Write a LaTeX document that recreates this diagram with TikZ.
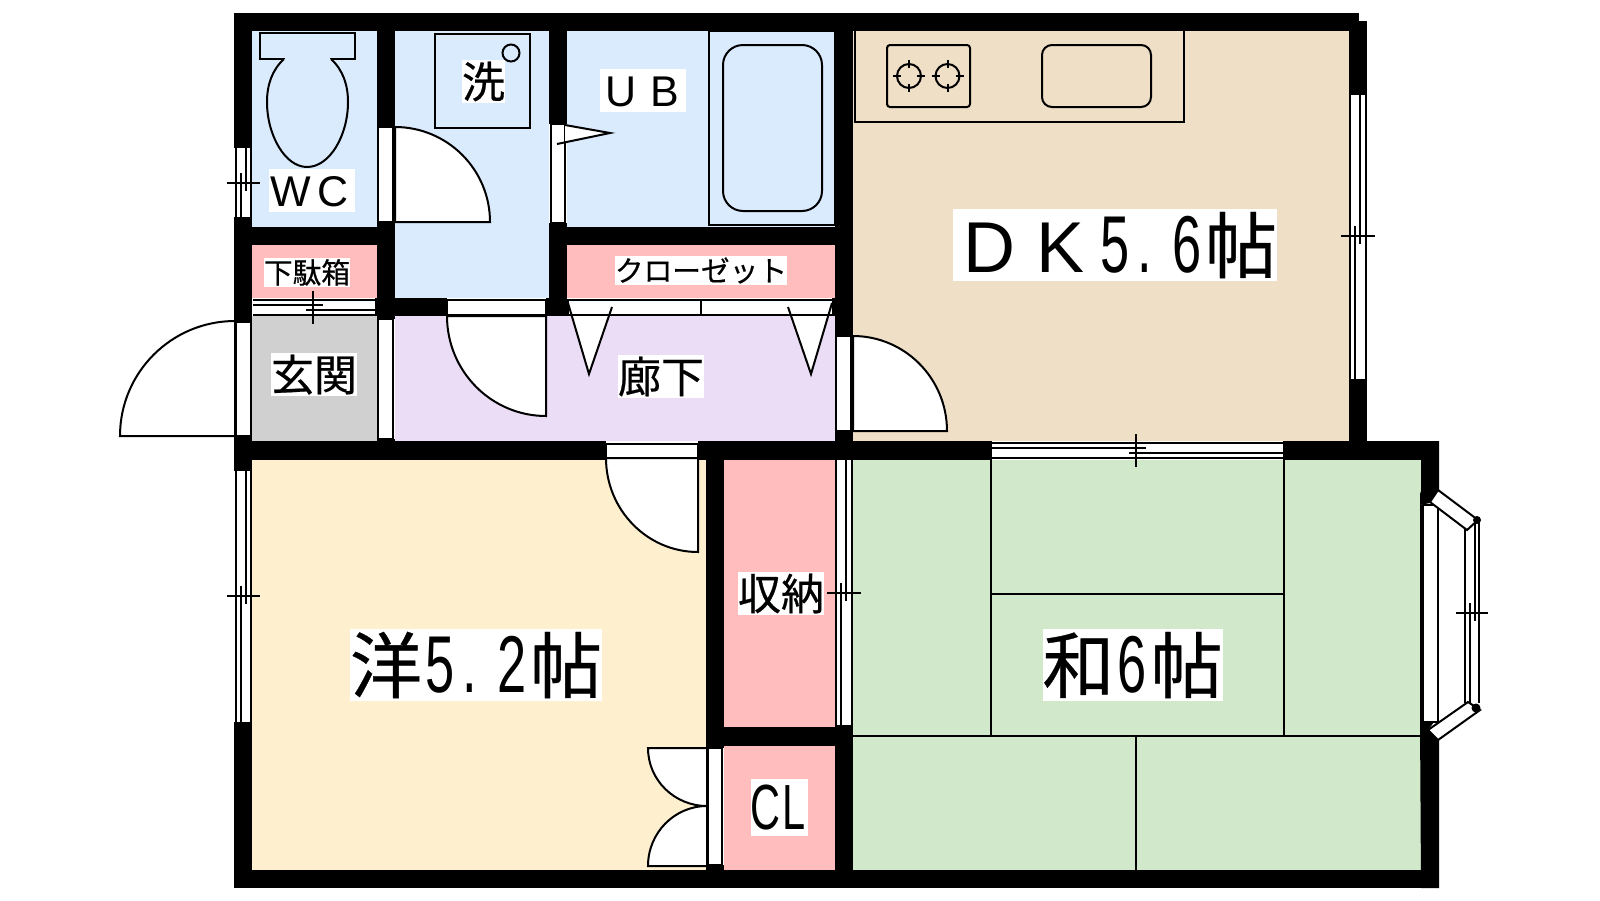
\documentclass[tikz,border=0pt]{standalone}
\usepackage{fontspec}
\setmainfont[FakeBold=0.5]{Noto Sans CJK JP}
\newfontfamily\latinf[Scale=1.0]{Liberation Sans}
\newfontfamily\narrowf[Scale=1.12,FakeStretch=0.65]{Liberation Sans}
\definecolor{cblue}{HTML}{DAEBFE}
\definecolor{cpink}{HTML}{FFBDBD}
\definecolor{cgray}{HTML}{D0D0D0}
\definecolor{cpurple}{HTML}{ECDDF6}
\definecolor{cbeige}{HTML}{EFDFC6}
\definecolor{ccream}{HTML}{FEF0CF}
\definecolor{cgreen}{HTML}{D2E8CB}
\tikzset{
  wall/.style={fill=black,draw=none},
  ln/.style={draw=black,line width=2pt},
  thin ln/.style={draw=black,line width=1.7pt},
  openbox/.style={fill=white,draw=black,line width=2pt},
  lbl/.style={fill=white,inner sep=0pt,outer sep=0pt,text=black},
}
\newcommand\rw[4]{\fill[wall] (#1,#2) rectangle (#3,#4);}
\newcommand\room[5]{\fill[#1] (#2,#3) rectangle (#4,#5);}
% door: a=(#1,#2) b=(#3,#4) centre=(#5,#6)
\newcommand\swing[6]{\filldraw[openbox] (#5,#6) -- (#1,#2) .. controls ({#1+.5523*(#3-#5)},{#2+.5523*(#4-#6)}) and ({#3+.5523*(#1-#5)},{#4+.5523*(#2-#6)}) .. (#3,#4) -- cycle;}
% vertical window x0 x1 y0 y1 yc
\newcommand\vwin[5]{%
  \fill[white] (#1,#3) rectangle (#2,#4);
  \draw[ln] (#1,#3) -- (#1,#4) (#2,#3) -- (#2,#4);
  \draw[ln] ({#1+5},{#5-10}) -- ({#1+5},#4) ({#1+10},#3) -- ({#1+10},{#5+8});
  \draw[ln] ({#1-9},#5) -- ({#2+9},#5);}
% horizontal window x0 x1 y0 xc
\newcommand\hwin[4]{%
  \fill[white] (#1,#3) rectangle (#2,{#3+15});
  \draw[ln] (#1,#3) -- (#2,#3) (#1,{#3+15}) -- (#2,{#3+15});
  \draw[ln] (#1,{#3+5}) -- ({#4+10},{#3+5}) ({#4-7},{#3+10}) -- (#2,{#3+10});
  \draw[ln] (#4,{#3-9}) -- (#4,{#3+24});}
% label: name cx cy em text
\newcommand\flabel[5]{\node[lbl] (#1) at (#2,#3) {\fontsize{#4}{#4}\selectfont\rule[-.12em]{0pt}{1em}#5};}
\newcommand\wch[1]{\makebox[1em]{\latinf #1}}
\newcommand\nch[1]{\makebox[.5em]{\narrowf #1}}
\newcommand\pch{\makebox[.5em][l]{\hspace{.06em}\narrowf .}}
\begin{document}
\begin{tikzpicture}[x=1pt,y=-1pt]
\useasboundingbox (0,0) rectangle (1600,900);
% rooms
\room{cblue}{252}{31}{377}{227}
\room{cblue}{395}{31}{549}{298}
\room{cblue}{567}{31}{835}{227}
\room{cbeige}{853}{31}{1349}{441}
\room{cpink}{252}{245}{377}{298}
\room{cpink}{567}{245}{835}{298}
\room{cgray}{252}{316}{377}{441}
\room{cpurple}{395}{316}{835}{441}
\room{ccream}{252}{460}{706}{870}
\room{cpink}{724}{460}{835}{727}
\room{cpink}{724}{746}{835}{870}
\room{cgreen}{853}{460}{1421}{870}
% tatami
\draw[thin ln] (853,736) -- (1421,736) (991,460) -- (991,736) (1284,460) -- (1284,736) (991,594) -- (1284,594) (1136,736) -- (1136,870);
% walls
\rw{234}{13}{1359}{31}
\rw{234}{13}{252}{148}
\rw{234}{217}{252}{322}
\rw{234}{436}{252}{471}
\rw{234}{722}{252}{888}
\rw{234}{870}{1439}{888}
\rw{1349}{21}{1367}{95}
\rw{1349}{379}{1367}{441}
\rw{377}{13}{395}{127}
\rw{377}{222}{395}{319}
\rw{377}{439}{395}{460}
\rw{234}{227}{395}{245}
\rw{375}{298}{447}{316}
\rw{549}{13}{567}{124}
\rw{549}{223}{567}{316}
\rw{546}{298}{567}{316}
\rw{549}{227}{853}{245}
\rw{835}{13}{853}{336}
\rw{832}{298}{835}{316}
\rw{835}{431}{853}{460}
\rw{835}{725}{853}{888}
\rw{234}{441}{606}{460}
\rw{698}{441}{992}{460}
\rw{1283}{441}{1439}{460}
\rw{706}{441}{724}{748}
\rw{706}{865}{724}{888}
\rw{706}{727}{853}{746}
\fill[wall] (1421,441) -- (1439,441) -- (1439,490) -- (1430,503) -- (1420,505) -- (1420,494) -- (1421,491) -- cycle;
\fill[wall] (1420,722) -- (1434,722) -- (1428,730) -- (1438,740) -- (1439,740) -- (1439,888) -- (1421,888) -- cycle;
% windows
\vwin{236}{251}{148}{217}{183}
\vwin{236}{251}{471}{722}{596}
\vwin{1350}{1366}{95}{379}{236}
\vwin{836}{852}{460}{725}{593}
\hwin{253}{375}{300}{313}
\hwin{992}{1283}{443}{1136}
% folding door fills
\fill[white] (568,303) -- (589,374) -- (612,307) -- cycle;
\fill[white] (832,303) -- (811,374) -- (788,307) -- cycle;
% door frames
\filldraw[openbox] (378,127) rectangle (393,222);
\filldraw[openbox] (378,319) rectangle (393,439);
\filldraw[openbox] (236,322) rectangle (251,436);
\filldraw[openbox] (551,124) rectangle (565,223);
\filldraw[openbox] (836,336) rectangle (851,431);
\filldraw[openbox] (708,748) rectangle (722,865);
\filldraw[openbox] (447,300) rectangle (546,315);
\filldraw[openbox] (606,444) rectangle (698,458);
\filldraw[openbox] (568,300) rectangle (833,315);
\draw[ln] (701,300) -- (701,315);
% swing doors
\swing{395}{127}{490}{222}{395}{222}
\swing{120}{436}{235}{321}{235}{436}
\swing{447}{316}{546}{416}{546}{316}
\swing{853}{336}{947}{431}{853}{431}
\swing{606}{458}{698}{552}{698}{458}
\swing{648}{748}{707}{806}{707}{748}
\swing{648}{866}{707}{806}{707}{866}
% folding door leaves
\draw[ln] (568,303) -- (589,374) -- (612,307);
\draw[ln] (832,303) -- (811,374) -- (788,307);
\fill[white] (565,125) -- (610,133) -- (565,141) -- cycle;
\draw[ln] (565,125) -- (610,133) -- (557,144);
% bay window
\draw[ln] (1421,505) -- (1421,722);
\filldraw[openbox] (1423,505) rectangle (1438,722);
\vwin{1465}{1479}{523}{703}{613}
\filldraw[openbox] (1438,490) -- (1478,520) -- (1467,530) -- (1430,502) -- cycle;
\filldraw[openbox] (1438,740) -- (1480,710) -- (1468,702) -- (1428,730) -- cycle;
\fill[black] (1477,520) circle[radius=4];
\fill[black] (1476,708) circle[radius=4.5];
% toilet
\draw[ln] (260,33) rectangle (355,59);
\draw[ln,fill=cblue] (284,59) .. controls (272,70) and (267,85) .. (267,102) .. controls (267,135) and (285,167) .. (307,167) .. controls (330,167) and (348,135) .. (348,102) .. controls (348,85) and (343,70) .. (331,59);
\fill[cblue] (285,57.5) rectangle (330,60.5);
% washer
\draw[ln] (435,34) rectangle (530,128);
\draw[ln] (511,53) circle[radius=8.5];
% bath
\draw[ln] (709,31) rectangle (835,225);
\draw[ln,rounded corners=20pt] (723,45) rectangle (822,211);
% kitchen
\draw[ln] (855,31) -- (855,122) -- (1184,122) -- (1184,31);
\draw[ln,rounded corners=3pt] (887,45) rectangle (970,107);
\draw[ln,rounded corners=10pt] (1042,45) rectangle (1151,107);
\foreach \bx in {909,947.5} {
  \draw[ln] (\bx,76) circle[radius=12];
  \draw[ln] (\bx-16,76) -- (\bx-8,76) (\bx+8,76) -- (\bx+16,76) (\bx,60) -- (\bx,68) (\bx,84) -- (\bx,92);
}
% labels
\flabel{lWC}{312}{190.5}{43}{\wch{W}\wch{C}}
\flabel{lWash}{483.5}{81.5}{43}{洗}
\flabel{lUB}{643}{90.5}{43}{\wch{U}\wch{B}}
\flabel{lDK}{1115}{245}{72}{\wch{D}\wch{K}\nch{5}\pch\nch{6}帖}
\flabel{lShoe}{307}{272.5}{28.7}{下駄箱}
\flabel{lCloset}{701}{270.5}{28.7}{クローゼット}
\flabel{lEntry}{314}{374.5}{43}{玄関}
\flabel{lHall}{661}{376.5}{43}{廊下}
\flabel{lStore}{781}{593.5}{43}{収納}
\flabel{lCL}{779.5}{807.5}{57}{\nch{C}\nch{L}}
\flabel{lWest}{476}{665}{72}{洋\nch{5}\pch\nch{2}帖}
\flabel{lJap}{1132.5}{665}{72}{和\nch{6}帖}
\draw[ln] (827,593) -- (859,593);
\end{tikzpicture}
\end{document}
